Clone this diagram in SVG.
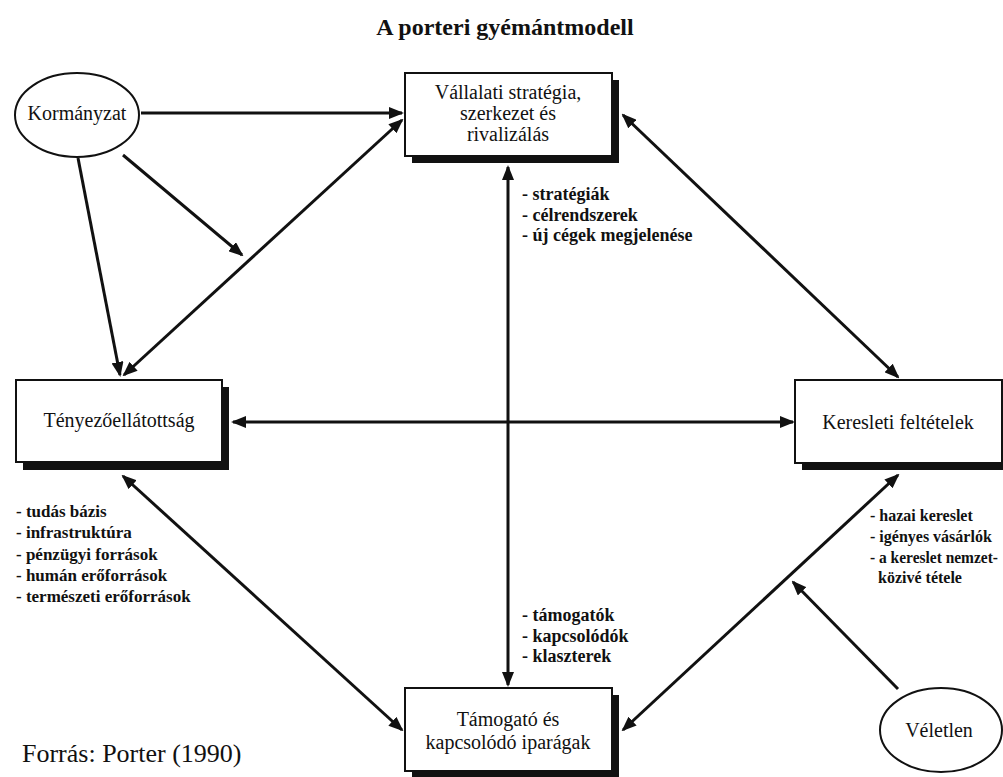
<svg xmlns="http://www.w3.org/2000/svg" width="1003" height="777" viewBox="0 0 1003 777">
<style>
.t{font-family:"Liberation Serif","Times New Roman",serif;fill:#111}
.title{font-size:24px;font-weight:bold}
.n{font-size:20px;text-anchor:middle}
.l{font-size:18px;font-weight:bold}
.ls{font-size:17px;font-weight:bold}
.lr{font-size:16px;font-weight:bold}
.src{font-size:26px}
.box{fill:#fff;stroke:#111;stroke-width:2}
.sh{fill:#111}
.ell{fill:#fff;stroke:#111;stroke-width:2}
.c{stroke:#111;stroke-width:3;fill:none}
</style>
<defs>
<marker id="ah" viewBox="0 0 15 12" refX="13" refY="6" markerUnits="userSpaceOnUse" markerWidth="15" markerHeight="12" orient="auto-start-reverse">
<path d="M0,0 L15,6 L0,12 z" fill="#111"/>
</marker>
</defs>
<rect width="1003" height="777" fill="#fff"/>
<text class="t title" x="505" y="35" text-anchor="middle">A porteri gyémántmodell</text>

<g id="connectors">
<line class="c" x1="141" y1="113" x2="402" y2="113" marker-end="url(#ah)"/>
<line class="c" x1="78" y1="158" x2="120" y2="375" marker-end="url(#ah)"/>
<line class="c" x1="123" y1="155" x2="242" y2="255" marker-end="url(#ah)"/>
<line class="c" x1="402" y1="120" x2="124" y2="375" marker-start="url(#ah)" marker-end="url(#ah)"/>
<line class="c" x1="508" y1="167" x2="508" y2="685" marker-start="url(#ah)" marker-end="url(#ah)"/>
<line class="c" x1="233" y1="422" x2="793" y2="422" marker-start="url(#ah)" marker-end="url(#ah)"/>
<line class="c" x1="623" y1="115" x2="898" y2="377" marker-start="url(#ah)" marker-end="url(#ah)"/>
<line class="c" x1="123" y1="476" x2="402" y2="730" marker-start="url(#ah)" marker-end="url(#ah)"/>
<line class="c" x1="898" y1="475" x2="623" y2="730" marker-start="url(#ah)" marker-end="url(#ah)"/>
<line class="c" x1="898" y1="689" x2="793" y2="582" marker-end="url(#ah)"/>
</g>

<g id="kormanyzat">
<ellipse class="ell" cx="77" cy="115" rx="62" ry="42"/>
<text class="t n" x="77" y="120">Kormányzat</text>
</g>

<g id="vallalati">
<rect class="sh" x="412" y="80" width="207" height="83"/>
<rect class="box" x="405" y="73" width="207" height="83"/>
<text class="t n" x="508" y="99">Vállalati stratégia,</text>
<text class="t n" x="508" y="120">szerkezet és</text>
<text class="t n" x="508" y="141">rivalizálás</text>
</g>

<g id="tenyezo">
<rect class="sh" x="23" y="387" width="206" height="83"/>
<rect class="box" x="16" y="380" width="206" height="82"/>
<text class="t n" x="119" y="427">Tényezőellátottság</text>
</g>

<g id="keresleti">
<rect class="sh" x="802" y="387" width="207" height="83"/>
<rect class="box" x="795" y="380" width="207" height="83"/>
<text class="t n" x="898" y="429">Keresleti feltételek</text>
</g>

<g id="tamogato">
<rect class="sh" x="412" y="695" width="207" height="83"/>
<rect class="box" x="405" y="688" width="207" height="83"/>
<text class="t n" x="508" y="726">Támogató és</text>
<text class="t n" x="508" y="749">kapcsolódó iparágak</text>
</g>

<g id="veletlen">
<ellipse class="ell" cx="941" cy="730" rx="61" ry="42"/>
<text class="t n" x="939" y="737">Véletlen</text>
</g>

<g id="lists">
<text class="t l" x="522" y="200">- stratégiák</text>
<text class="t l" x="522" y="221">- célrendszerek</text>
<text class="t l" x="522" y="241">- új cégek megjelenése</text>

<text class="t ls" x="16" y="517">- tudás bázis</text>
<text class="t ls" x="16" y="538">- infrastruktúra</text>
<text class="t ls" x="16" y="560">- pénzügyi források</text>
<text class="t ls" x="16" y="581">- humán erőforrások</text>
<text class="t ls" x="16" y="602">- természeti erőforrások</text>

<text class="t l" x="522" y="621">- támogatók</text>
<text class="t l" x="522" y="642">- kapcsolódók</text>
<text class="t l" x="522" y="662">- klaszterek</text>

<text class="t lr" x="870" y="521">- hazai kereslet</text>
<text class="t lr" x="870" y="542">- igényes vásárlók</text>
<text class="t lr" x="870" y="563" textLength="128" lengthAdjust="spacingAndGlyphs">- a kereslet nemzet-</text>
<text class="t lr" x="878" y="583">közivé tétele</text>
</g>

<text class="t src" x="22" y="762">Forrás: Porter (1990)</text>
</svg>
